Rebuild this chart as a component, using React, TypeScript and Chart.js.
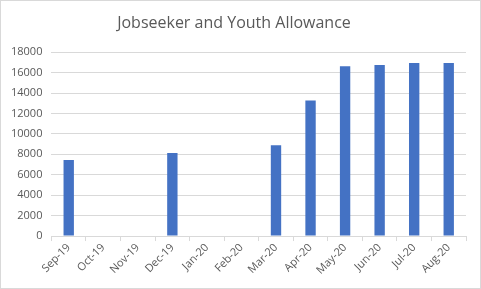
import React, { useEffect, useRef } from "react";
import { Chart, registerables } from "chart.js";

Chart.register(...registerables);

const categories = ["Sep-19", "Oct-19", "Nov-19", "Dec-19", "Jan-20", "Feb-20", "Mar-20", "Apr-20", "May-20", "Jun-20", "Jul-20", "Aug-20"];
const values = [7450, null, null, 8130, null, null, 8900, 13270, 16620, 16750, 16940, 16950];
const yTicksMax = 18000;
const yStep = 2000;
const titleText = "Jobseeker and Youth Allowance";

const borderPlugin = {
  id: "outerBorder",
  afterDraw(chart: any) {
    const ctx = chart.ctx;
    ctx.save();
    ctx.strokeStyle = "#d9d9d9";
    ctx.lineWidth = 1;
    ctx.strokeRect(0.5, 0.5, chart.width - 1, chart.height - 1);
    ctx.restore();
  },
};

export default function App() {
  const ref = useRef<HTMLCanvasElement>(null);
  useEffect(() => {
    document.body.style.margin = "0";
    const chart = new Chart(ref.current!, {
      type: "bar",
      data: {
        labels: categories,
        datasets: [
          {
            data: values as any,
            backgroundColor: "#4472c4",
            borderColor: "#4472c4",
            barPercentage: 0.6,
            categoryPercentage: 0.5,
          },
        ],
      },
      options: {
        animation: false,
        responsive: false,
        layout: { padding: { left: 2, right: 15, top: 4, bottom: 12 } },
        plugins: {
          legend: { display: false },
          tooltip: { enabled: false },
          title: {
            display: true,
            text: titleText,
            color: "#595959",
            font: { family: "Open Sans", size: 16, weight: "normal" as any },
            padding: { top: 10, bottom: 19 },
          },
        },
        scales: {
          x: {
            grid: { drawOnChartArea: false, drawTicks: true, tickLength: 5, color: "#d9d9d9" },
            border: { color: "#d9d9d9" },
            ticks: {
              color: "#595959",
              font: { family: "Open Sans", size: 11 },
              minRotation: 45,
              maxRotation: 45,
              autoSkip: false,
              padding: 0,
            },
          },
          y: {
            min: 0,
            max: yTicksMax,
            grid: { color: "#d9d9d9", drawTicks: false },
            border: { display: false },
            ticks: {
              stepSize: yStep,
              color: "#595959",
              font: { family: "Open Sans", size: 11 },
              padding: 9,
              callback: (v: any) => String(v),
            },
          },
        },
      },
      plugins: [borderPlugin],
    });
    return () => chart.destroy();
  }, []);
  return <canvas ref={ref} width={481} height={289} style={{ display: "block" }} />;
}
